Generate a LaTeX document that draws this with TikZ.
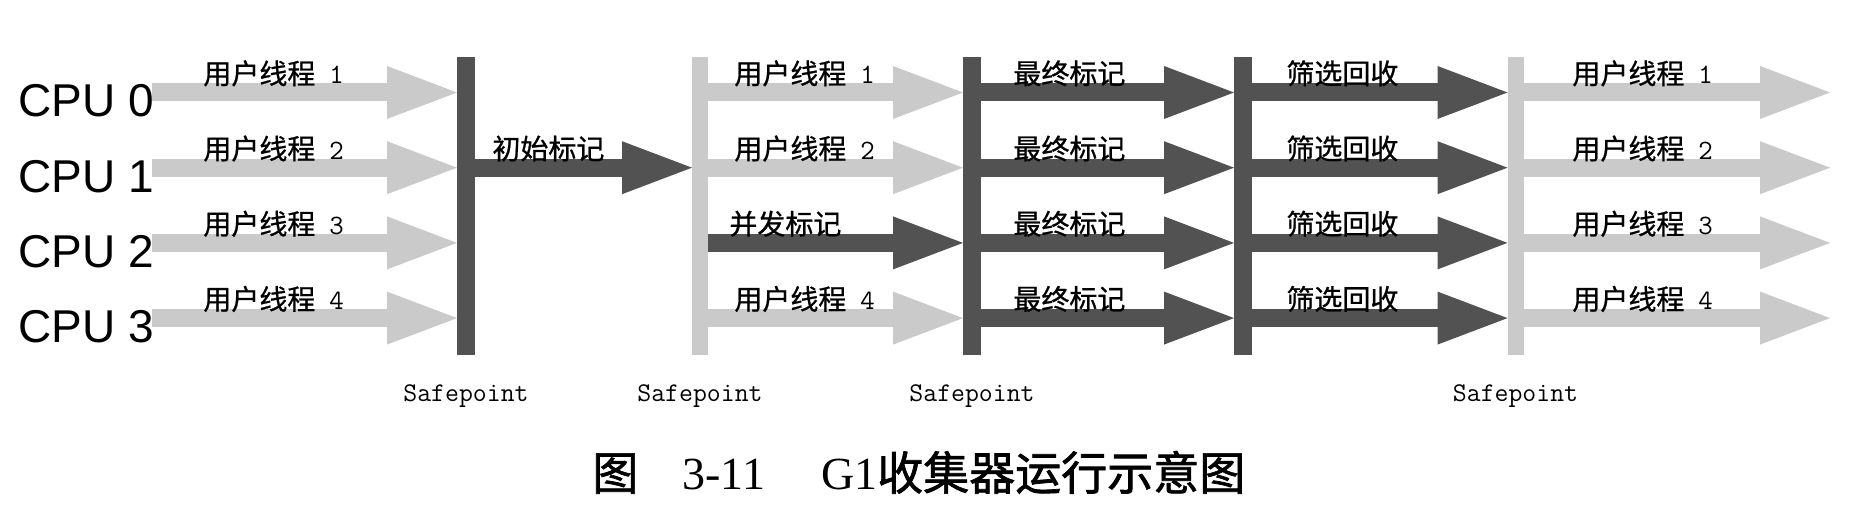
\documentclass[tikz,border=0pt]{standalone}
\usepackage{fontspec}
\setmainfont{Liberation Serif}
\newfontfamily\cjkcap[FakeBold=1.5]{Noto Sans CJK SC}
\newfontfamily\cjklbl[FakeBold=0.8]{Noto Sans CJK SC}
\newfontfamily\cpufont{Liberation Sans}
\usetikzlibrary{arrows.meta}
\definecolor{darkg}{RGB}{82,82,82}
\definecolor{lightg}{RGB}{202,202,202}
\begin{document}
\begin{tikzpicture}[x=0.5pt,y=-0.5pt,
  bar/.style={draw=none, minimum height=149pt, inner sep=0pt, outer sep=0pt},
  darkbar/.style={bar, fill=darkg, minimum width=9pt},
  lightbar/.style={bar, fill=lightg, minimum width=8pt},
  blk/.style={line width=9pt, -{Triangle[length=35pt,width=26.5pt,line width=0pt]}},
  grayarrow/.style={blk, draw=lightg},
  darkarrow/.style={blk, draw=darkg},
  cpu/.style={font=\cpufont\fontsize{23}{23}\selectfont, anchor=base west, inner sep=0pt},
  lbl/.style={font=\cjklbl\fontsize{14}{14}\selectfont, anchor=base west, inner sep=0pt},
  sp/.style={font=\ttfamily\fontsize{13.5}{14}\selectfont, inner sep=0pt},
  captxt/.style={font=\fontsize{23}{23}\selectfont, anchor=base west, inner sep=0pt},
]
\useasboundingbox[fill=white] (0,0) rectangle (1850,506);

% rows and free ends
\coordinate (r0) at (0,92.5);
\coordinate (r1) at (0,167.7);
\coordinate (r2) at (0,242.9);
\coordinate (r3) at (0,318.1);
\coordinate (st) at (152,0);
\coordinate (en) at (1830,0);
\coordinate (spy) at (0,396);

% safepoint bars
\node[darkbar]  (b1) at (466,206) {};
\node[lightbar] (b2) at (700,206) {};
\node[darkbar]  (b3) at (972,206) {};
\node[darkbar]  (b4) at (1243,206) {};
\node[lightbar] (b5) at (1515.5,206) {};

% CPU labels
\node[cpu] (c0) at (18,117) {CPU 0};
\node[cpu] (c1) at (18,192.2) {CPU 1};
\node[cpu] (c2) at (18,267.4) {CPU 2};
\node[cpu] (c3) at (18,342.6) {CPU 3};

% stage 1: user threads
\foreach \i in {0,...,3} \draw[grayarrow] (st |- r\i) -- (b1.west |- r\i);
% stage 2: initial mark
\draw[darkarrow] (b1.east |- r1) -- (b2.west |- r1);
% stage 3: concurrent mark + user threads
\foreach \i in {0,1,3} \draw[grayarrow] (b2.east |- r\i) -- (b3.west |- r\i);
\draw[darkarrow] (b2.east |- r2) -- (b3.west |- r2);
% stage 4: final mark
\foreach \i in {0,...,3} \draw[darkarrow] (b3.east |- r\i) -- (b4.west |- r\i);
% stage 5: live data counting and evacuation
\foreach \i in {0,...,3} \draw[darkarrow] (b4.east |- r\i) -- (b5.west |- r\i);
% stage 6: user threads
\foreach \i in {0,...,3} \draw[grayarrow] (b5.east |- r\i) -- (en |- r\i);

% labels on arrows
\node[lbl] (u1) at (203,84)    {用户线程\hspace{7pt}{\ttfamily 1}};
\node[lbl] (u2) at (203,159.2) {用户线程\hspace{7pt}{\ttfamily 2}};
\node[lbl] (u3) at (203,234.4) {用户线程\hspace{7pt}{\ttfamily 3}};
\node[lbl] (u4) at (203,309.6) {用户线程\hspace{7pt}{\ttfamily 4}};

\node[lbl] (im) at (492,159.2) {初始标记};

\node[lbl] (v1) at (734,84)    {用户线程\hspace{7pt}{\ttfamily 1}};
\node[lbl] (v2) at (734,159.2) {用户线程\hspace{7pt}{\ttfamily 2}};
\node[lbl] (cm) at (729,234.4) {并发标记};
\node[lbl] (v4) at (734,309.6) {用户线程\hspace{7pt}{\ttfamily 4}};

\node[lbl] (f1) at (1013,84)    {最终标记};
\node[lbl] (f2) at (1013,159.2) {最终标记};
\node[lbl] (f3) at (1013,234.4) {最终标记};
\node[lbl] (f4) at (1013,309.6) {最终标记};

\node[lbl] (s1) at (1286,84)    {筛选回收};
\node[lbl] (s2) at (1286,159.2) {筛选回收};
\node[lbl] (s3) at (1286,234.4) {筛选回收};
\node[lbl] (s4) at (1286,309.6) {筛选回收};

\node[lbl] (w1) at (1572,84)    {用户线程\hspace{7pt}{\ttfamily 1}};
\node[lbl] (w2) at (1572,159.2) {用户线程\hspace{7pt}{\ttfamily 2}};
\node[lbl] (w3) at (1572,234.4) {用户线程\hspace{7pt}{\ttfamily 3}};
\node[lbl] (w4) at (1572,309.6) {用户线程\hspace{7pt}{\ttfamily 4}};

% Safepoint labels
\node[sp] (p1) at (b1 |- spy) {Safepoint};
\node[sp] (p2) at (b2 |- spy) {Safepoint};
\node[sp] (p3) at (b3 |- spy) {Safepoint};
\node[sp] (p5) at (b5 |- spy) {Safepoint};

% caption
\node[captxt] (caption) at (592,490) {{\cjkcap 图}\hspace{22pt}3-11\hspace{28pt}G1{\cjkcap 收集器运行示意图}};
\end{tikzpicture}
\end{document}
